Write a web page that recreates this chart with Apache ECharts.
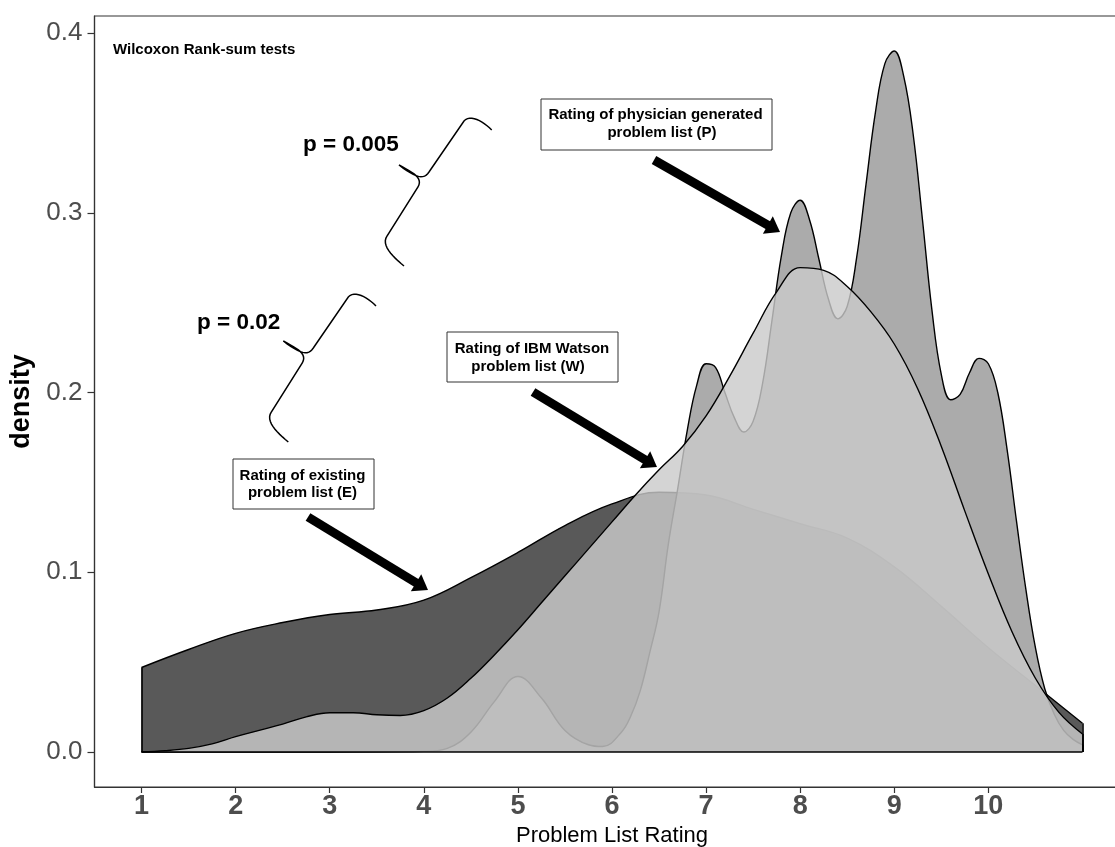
<!DOCTYPE html>
<html>
<head>
<meta charset="utf-8">
<script src="https://cdn.jsdelivr.net/npm/echarts@6/dist/echarts.min.js"></script>
<style>
html,body{margin:0;padding:0;background:#fff;}
#chart{width:1115px;height:847px;}
</style>
</head>
<body>
<div id="chart"></div>
<script>
// ---- data ----
const xTicks = [1,2,3,4,5,6,7,8,9,10];
const yTicks = [0,0.1,0.2,0.3,0.4];

// Existing problem list (E)
const eX = [1,1.5,2,2.5,3,3.5,4,4.5,5,5.5,6,6.5,7,7.5,8,8.5,9,9.5,10,10.5,11];
const eY = [0.047,0.057,0.066,0.072,0.0765,0.079,0.0845,0.097,0.111,0.126,0.138,0.1445,0.143,0.135,0.127,0.119,0.103,0.081,0.058,0.037,0.016];

// Physician generated problem list (P)
const pX = [1,2,3,4,4.25,4.5,4.75,5,5.25,5.5,5.75,5.9,6.1,6.2,6.3,6.4,6.5,6.6,6.7,6.8,6.9,7,7.1,7.2,7.3,7.4,7.5,7.6,7.7,7.8,7.9,8,8.1,8.2,8.3,8.4,8.5,8.6,8.7,8.8,8.9,9,9.1,9.2,9.3,9.4,9.5,9.6,9.7,9.8,9.9,10,10.1,10.2,10.3,10.4,10.5,10.6,10.7,10.8,10.9,11];
const pY = [0,0,0,0.0003,0.002,0.011,0.028,0.042,0.030,0.012,0.004,0.003,0.011,0.020,0.034,0.055,0.078,0.116,0.147,0.179,0.204,0.216,0.214,0.200,0.186,0.178,0.184,0.205,0.240,0.276,0.300,0.307,0.296,0.274,0.252,0.241,0.248,0.275,0.316,0.356,0.383,0.390,0.376,0.344,0.296,0.246,0.210,0.196,0.199,0.211,0.219,0.216,0.200,0.168,0.128,0.090,0.058,0.035,0.021,0.012,0.007,0.004];

// IBM Watson problem list (W)
const wX = [1,1.25,1.5,1.75,2,2.25,2.5,2.75,3,3.25,3.5,3.75,4,4.25,4.5,4.75,5,5.25,5.5,5.75,6,6.25,6.5,6.75,7,7.25,7.5,7.75,8,8.25,8.5,8.75,9,9.25,9.5,9.75,10,10.25,10.5,10.75,11];
const wY = [0,0.0007,0.002,0.0045,0.0085,0.012,0.0155,0.0195,0.0218,0.0218,0.0207,0.0203,0.023,0.030,0.041,0.054,0.068,0.083,0.098,0.113,0.128,0.143,0.157,0.170,0.187,0.209,0.233,0.256,0.2695,0.268,0.259,0.245,0.227,0.202,0.170,0.134,0.099,0.067,0.041,0.022,0.010];

// ---- chart ----
const FONT = '"Liberation Sans", Arial, Helvetica, sans-serif';
const pairs = (xs, ys) => xs.map((x, i) => [x, ys[i]]);

function densitySeries(name, xs, ys, fill, z) {
  return {
    name: name, type: 'line', data: pairs(xs, ys),
    smooth: 0.4, showSymbol: false, silent: true,
    lineStyle: {color: '#000', width: 1.4},
    areaStyle: {color: fill, opacity: 1},
    z: z
  };
}

// outline edges of the density polygons (baseline + vertical ends)
const lastE = eX.length - 1, lastP = pX.length - 1, lastW = wX.length - 1;
const edges = [
  {coords: [[eX[0], 0], [eX[0], eY[0]]]},
  {coords: [[eX[0], 0], [eX[lastE], 0]]},
  {coords: [[eX[lastE], 0], [eX[lastE], eY[lastE]]]},
  {coords: [[pX[lastP], 0], [pX[lastP], pY[lastP]]]},
  {coords: [[wX[lastW], 0], [wX[lastW], wY[lastW]]]}
];

const chart = echarts.init(document.getElementById('chart'), null, {renderer: 'canvas'});

// curly brace outline as a sampled polyline
function cubic(p0, p1, p2, p3, n, out) {
  for (let i = 1; i <= n; i++) {
    const t = i / n, u = 1 - t;
    out.push([
      u*u*u*p0[0] + 3*u*u*t*p1[0] + 3*u*t*t*p2[0] + t*t*t*p3[0],
      u*u*u*p0[1] + 3*u*u*t*p1[1] + 3*u*t*t*p2[1] + t*t*t*p3[1]
    ]);
  }
}
function brace(dx, dy) {
  const P = (x, y) => [x + dx, y + dy];
  const pts = [P(491.7, 130)];
  cubic(P(491.7, 130), P(483, 121), P(470, 114), P(464, 121), 12, pts);
  pts.push(P(429, 172));
  cubic(P(429, 172), P(424, 180), P(416, 178), P(399, 165), 12, pts);
  cubic(P(399, 165), P(414, 173), P(423, 178), P(418, 187), 12, pts);
  pts.push(P(387, 236));
  cubic(P(387, 236), P(381, 245), P(392, 256), P(404, 266), 12, pts);
  return {type: 'polyline', z: 100, shape: {points: pts},
          style: {stroke: '#000', fill: null, lineWidth: 1.5}};
}

function arrow(x1, y1, x2, y2) {
  const dx = x2 - x1, dy = y2 - y1, L = Math.hypot(dx, dy);
  const ux = dx / L, uy = dy / L, hl = 14, hw = 10;
  const bx = x2 - ux * hl, by = y2 - uy * hl;
  return [
    {type: 'line', z: 100, shape: {x1: x1, y1: y1, x2: bx + ux, y2: by + uy},
     style: {stroke: '#000', lineWidth: 9, lineCap: 'butt'}},
    {type: 'polygon', z: 100,
     shape: {points: [[x2, y2], [bx - uy * hw, by + ux * hw], [bx + uy * hw, by - ux * hw]]},
     style: {fill: '#000'}}
  ];
}

function txt(text, x, y, size, align) {
  return {type: 'text', z: 101, x: x, y: y,
    style: {text: text, fill: '#000', font: 'bold ' + size + 'px ' + FONT,
      align: align || 'center', verticalAlign: 'middle'}};
}

function box(x, y, w, h) {
  return {type: 'rect', z: 100, shape: {x: x, y: y, width: w, height: h},
    style: {fill: '#fff', stroke: '#333', lineWidth: 1}};
}

const graphics = [
  txt('Wilcoxon Rank-sum tests', 113, 50, 15, 'left'),
  txt('p = 0.005', 303, 145, 22.5, 'left'),
  txt('p = 0.02', 197, 323, 22.5, 'left'),
  brace(0, 0),
  brace(-115.7, 176),
  box(541, 99, 231, 51),
  txt('Rating of physician generated', 655.5, 115, 15),
  txt('problem list (P)', 662, 133.3, 15),
  box(447, 332, 171, 50),
  txt('Rating of IBM Watson', 532, 349, 15),
  txt('problem list (W)', 528, 366.7, 15),
  box(233, 459, 141, 50),
  txt('Rating of existing', 302.5, 476, 15),
  txt('problem list (E)', 302.5, 492.7, 15)
].concat(arrow(654, 160, 780, 232), arrow(533, 392, 657, 467), arrow(308, 517, 428, 590));

const option = {
  animation: false,
  backgroundColor: '#fff',
  grid: {left: 94.5, right: -14.5, top: 16, bottom: 60, show: true,
         outerBoundsMode: 'none', containLabel: false,
         borderColor: '#333', borderWidth: 1.2, backgroundColor: 'transparent'},
  xAxis: {
    type: 'value', min: 0.5, max: 11.5,
    axisLine: {show: true, onZero: false, lineStyle: {color: '#333', width: 1.2}},
    splitLine: {show: false},
    axisTick: {show: true, customValues: xTicks, length: 6, lineStyle: {color: '#333', width: 1.2}},
    axisLabel: {customValues: xTicks, fontSize: 27, fontWeight: 'bold', color: '#4d4d4d', margin: 6, fontFamily: FONT},
    name: 'Problem List Rating', nameLocation: 'middle', nameGap: 36,
    nameTextStyle: {fontSize: 22, color: '#000', fontFamily: FONT}
  },
  yAxis: {
    type: 'value', min: -0.0195, max: 0.4095,
    axisLine: {show: true, onZero: false, lineStyle: {color: '#333', width: 1.2}},
    splitLine: {show: false},
    axisTick: {show: true, customValues: yTicks, length: 7, lineStyle: {color: '#333', width: 1.2}},
    axisLabel: {customValues: yTicks, fontSize: 26, color: '#4d4d4d', margin: 12, fontFamily: FONT,
                formatter: v => Number(v).toFixed(1)},
    name: 'density', nameLocation: 'middle', nameGap: 50, nameRotate: 90,
    nameTextStyle: {fontSize: 27, fontWeight: 'bold', color: '#000', fontFamily: FONT}
  },
  series: [
    densitySeries('E', eX, eY, 'rgba(51,51,51,0.81)', 2),
    densitySeries('P', pX, pY, 'rgba(152,152,152,0.81)', 3),
    densitySeries('W', wX, wY, 'rgba(202,202,202,0.81)', 4),
    {type: 'lines', coordinateSystem: 'cartesian2d', polyline: false, silent: true, z: 5,
     lineStyle: {color: '#000', width: 1.6, opacity: 1}, data: edges}
  ],
  graphic: {elements: graphics}
};
chart.setOption(option);
</script>
</body>
</html>
